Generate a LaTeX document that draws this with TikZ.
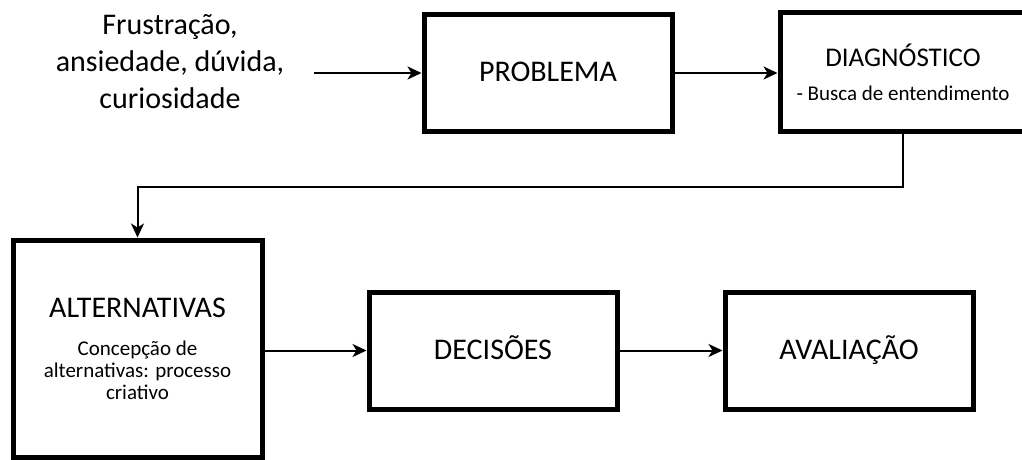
\documentclass[tikz,border=0pt]{standalone}
\usepackage{fontspec}
\setmainfont{Carlito}
\usetikzlibrary{arrows.meta}
\begin{document}
\begin{tikzpicture}[
      x=1pt, y=-1pt,
      box/.style={draw, line width=5pt, align=center, inner sep=0pt,
                  minimum width=248pt, minimum height=117pt},
      single/.style={box, font=\fontsize{30}{36}\selectfont,
                     text height=19.5pt, text depth=2pt},
      arr/.style={line width=2pt, -{Stealth[length=14pt,width=13pt,inset=4pt]}}
    ]
      \useasboundingbox (0,0) rectangle (1022,460);
      % causes
      \node[align=center,font=\fontsize{30}{37}\selectfont] (causa) at (170,62)
        {Frustração,\\ansiedade, dúvida,\\curiosidade};
      \coordinate (entrada) at (314,73);
      % top row
      \node[single] (problema) at (548,73) {PROBLEMA};
      \node[box,minimum width=246pt,minimum height=118pt,
            font=\fontsize{21}{25}\selectfont] (diagnostico) at (903,72)
        {\fontsize{27}{32}\selectfont DIAGNÓSTICO\\[9pt]
         - Busca de entendimento};
      % bottom row
      \node[box,minimum width=249pt,minimum height=217pt,
            font=\fontsize{21}{22}\selectfont] (alternativas) at (137.5,348.5)
        {\fontsize{30}{32}\selectfont ALTERNATIVAS\\[16pt]
         Concepção de\\alternativas: processo\\criativo};
      \node[single] (decisoes) at (493,350.5) {DECISÕES};
      \node[single] (avaliacao) at (849,350.5) {AVALIAÇÃO};
      % connectors
      \draw[arr] (entrada) -- (problema);
      \draw[arr] (problema) -- (diagnostico.west |- problema);
      \draw[arr] (diagnostico.south) -- ++(0,53) -| (alternativas.north);
      \draw[arr] (alternativas.east |- decisoes) -- (decisoes);
      \draw[arr] (decisoes) -- (avaliacao);
    \end{tikzpicture}
\end{document}
